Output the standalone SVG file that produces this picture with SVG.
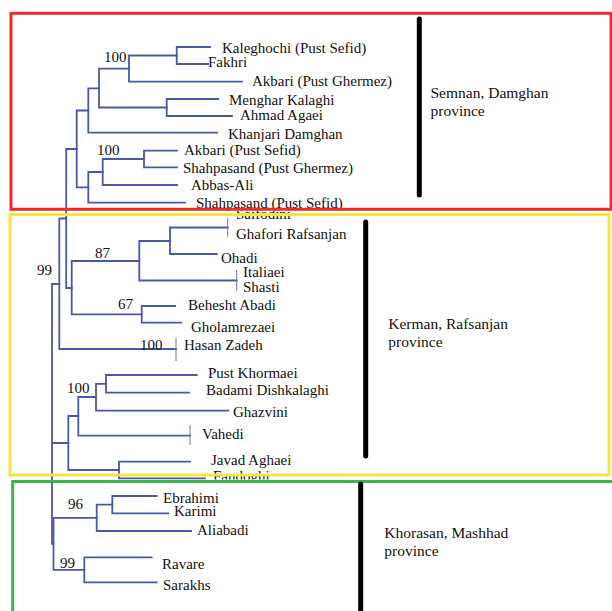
<svg xmlns="http://www.w3.org/2000/svg" width="612" height="611" viewBox="0 0 612 611">
<defs>
<style>
.br{fill:none;stroke:#4a58a8;stroke-width:1.8;stroke-linecap:square}
.tk{fill:none;stroke:#6a76b8;stroke-width:1}
.tx{font-family:"Liberation Serif","Times New Roman",serif;font-size:15px;fill:#111}
.bs{font-family:"Liberation Serif","Times New Roman",serif;font-size:15px;fill:#111}
.rg{font-family:"Liberation Serif","Times New Roman",serif;font-size:15.5px;fill:#111}
.bar{stroke:#000;stroke-width:5;stroke-linecap:round}
.box{fill:none;stroke-width:3}
</style>
<clipPath id="cSaif"><rect x="220" y="211" width="100" height="20"/></clipPath>
<clipPath id="cFand"><rect x="200" y="465" width="100" height="14.5"/></clipPath>
</defs>
<rect width="612" height="611" fill="#fff"/>

<g id="connectors">
<path class="br" d="M176.7,47V64M176.7,47H210M176.7,64H208"/>
<path class="br" d="M129,55.5V81.7M129,55.5H176.7M129,81.7H242"/>
<path class="br" d="M99,68.6V107.5M99,68.6H129M99,107.5H166.7"/>
<path class="br" d="M166.7,99V116M166.7,99H218M166.7,116H232"/>
<path class="br" d="M88.3,88.3V132.7M88.3,88.3H99M88.3,132.7H217"/>
<path class="br" d="M144,150.7V167.3M144,150.7H177M144,167.3H177"/>
<path class="br" d="M102.7,159V185M102.7,159H144M102.7,185H177"/>
<path class="br" d="M88.3,172V202.7M88.3,172H102.7M88.3,202.7H185"/>
<path class="br" d="M76.7,110.5V187.4M76.7,110.5H88.3M76.7,187.4H88.3"/>
<path class="br" d="M66.2,149V288M66.2,149H76.7M66.2,288H71.7"/>
<path class="br" d="M170,227.5V254M170,227.5H227.7M170,254H216.7"/>
<path class="tk" d="M227.7,218V236.7"/>
<path class="br" d="M139.3,241V280.5M139.3,241H170M139.3,280.5H236.7"/>
<path class="tk" d="M236.7,270V291"/>
<path class="br" d="M141.7,306V322.7M141.7,306H175M141.7,322.7H181"/>
<path class="br" d="M71.7,261V314.3M71.7,261H139.3M71.7,314.3H141.7"/>
<path class="br" d="M59.3,218.5V349M59.3,218.5H66.2M59.3,349H176"/>
<path class="tk" d="M176,338V361"/>
<path class="br" d="M106,375V392.7M106,375H196.7M106,392.7H189"/>
<path class="br" d="M96,383.8V410.7M96,383.8H106M96,410.7H228.3"/>
<path class="br" d="M78.3,397V435.7M78.3,397H96M78.3,435.7H190"/>
<path class="tk" d="M190,425V445" stroke="#6a5aa8"/>
<path class="br" d="M119,461.7V478.3M119,461.7H190M119,478.3H205"/>
<path class="br" d="M68.3,416V470M68.3,416H78.3M68.3,470H119"/>
<path class="br" d="M52,284V543.8M52,284H59.3M52,443H68.3M52,543.8H53.5"/>
<path class="br" d="M112.3,496V513.3M112.3,496H156.7M112.3,513.3H168.3"/>
<path class="br" d="M96.7,504.7V531M96.7,504.7H112.3M96.7,531H191"/>
<path class="br" d="M84.3,557.3V582.3M84.3,557.3H151.7M84.3,582.3H156.7"/>
<path class="br" d="M53.5,517.8V569.8M53.5,517.8H96.7M53.5,569.8H84.3"/>
</g>

<g id="bootstrap">
<text class="bs" x="104" y="62">100</text>
<text class="bs" x="97" y="155">100</text>
<text class="bs" x="37" y="275">99</text>
<text class="bs" x="95" y="258">87</text>
<text class="bs" x="118" y="309">67</text>
<text class="bs" x="140" y="350">100</text>
<text class="bs" x="67" y="393">100</text>
<text class="bs" x="68" y="509">96</text>
<text class="bs" x="60" y="568">99</text>
</g>

<g id="tips">
<g id="n-kaleghochi"><text class="tx" x="222" y="53">Kaleghochi (Pust Sefid)</text></g>
<g id="n-fakhri"><text class="tx" x="208" y="67">Fakhri</text></g>
<g id="n-akbari-pg"><text class="tx" x="252" y="86">Akbari (Pust Ghermez)</text></g>
<g id="n-menghar"><text class="tx" x="229" y="105">Menghar Kalaghi</text></g>
<g id="n-ahmad"><text class="tx" x="240" y="120">Ahmad Agaei</text></g>
<g id="n-khanjari"><text class="tx" x="228" y="139">Khanjari Damghan</text></g>
<g id="n-akbari-ps"><text class="tx" x="184" y="155">Akbari (Pust Sefid)</text></g>
<g id="n-shahpasand-pg"><text class="tx" x="183" y="172.5">Shahpasand (Pust Ghermez)</text></g>
<g id="n-abbas"><text class="tx" x="191" y="189.5">Abbas-Ali</text></g>
<g id="n-shahpasand-ps"><text class="tx" x="196" y="208.3">Shahpasand (Pust Sefid)</text></g>
<g id="n-saifodini"><text class="tx" x="236" y="219" clip-path="url(#cSaif)">Saifodini</text></g>
<g id="n-ghafori"><text class="tx" x="236" y="239">Ghafori Rafsanjan</text></g>
<g id="n-ohadi"><text class="tx" x="221" y="263">Ohadi</text></g>
<g id="n-italiaei"><text class="tx" x="243" y="277">Italiaei</text></g>
<g id="n-shasti"><text class="tx" x="243" y="292">Shasti</text></g>
<g id="n-behesht"><text class="tx" x="188" y="310">Behesht Abadi</text></g>
<g id="n-gholamrezaei"><text class="tx" x="191" y="332">Gholamrezaei</text></g>
<g id="n-hasan"><text class="tx" x="184" y="350">Hasan Zadeh</text></g>
<g id="n-pust-khormaei"><text class="tx" x="208" y="378">Pust Khormaei</text></g>
<g id="n-badami"><text class="tx" x="206" y="395">Badami Dishkalaghi</text></g>
<g id="n-ghazvini"><text class="tx" x="233" y="417">Ghazvini</text></g>
<g id="n-vahedi"><text class="tx" x="202" y="438.5">Vahedi</text></g>
<g id="n-javad"><text class="tx" x="211" y="465">Javad Aghaei</text></g>
<g id="n-fandoghi"><text class="tx" x="213" y="481" clip-path="url(#cFand)">Fandoghi</text></g>
<g id="n-ebrahimi"><text class="tx" x="163" y="502.5">Ebrahimi</text></g>
<g id="n-karimi"><text class="tx" x="174" y="515.5">Karimi</text></g>
<g id="n-aliabadi"><text class="tx" x="197" y="535">Aliabadi</text></g>
<g id="n-ravare"><text class="tx" x="162" y="569">Ravare</text></g>
<g id="n-sarakhs"><text class="tx" x="163" y="590">Sarakhs</text></g>
</g>

<g id="region-semnan">
<rect class="box" x="11" y="13.3" width="600" height="196" stroke="#ec2a30"/>
<line class="bar" x1="419.3" y1="19" x2="419.3" y2="195"/>
<text class="rg" x="430.5" y="98">Semnan, Damghan</text>
<text class="rg" x="430.5" y="116">province</text>
</g>
<g id="region-kerman">
<rect class="box" x="10" y="214.5" width="599" height="260.5" stroke="#f3e440"/>
<line class="bar" x1="365.7" y1="222" x2="365.7" y2="456"/>
<text class="rg" x="388.3" y="329">Kerman, Rafsanjan</text>
<text class="rg" x="388.3" y="347">province</text>
</g>
<g id="region-khorasan">
<rect class="box" x="12.7" y="481.5" width="610" height="150" stroke="#3db34a"/>
<line class="bar" x1="360.7" y1="484" x2="360.7" y2="620"/>
<text class="rg" x="384.3" y="538">Khorasan, Mashhad</text>
<text class="rg" x="384.3" y="556">province</text>
</g>
</svg>
